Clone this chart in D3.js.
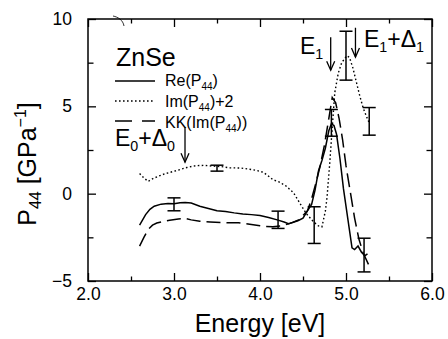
<!DOCTYPE html>
<html><head><meta charset="utf-8">
<script src="https://cdn.jsdelivr.net/npm/d3@7"></script>
<style>
html,body{margin:0;padding:0;background:#fff;}
svg{display:block;font-family:"Liberation Sans",Arial,Helvetica,sans-serif;}
</style></head><body>
<svg id="c" width="448" height="339"></svg>
<script>
// ---- data ----
const reE = [2.60,2.63,2.67,2.72,2.77,2.85,2.93,3.00,3.07,3.13,3.20,3.30,3.40,3.50,3.60,3.70,3.80,3.90,4.00,4.10,4.20,4.28,4.33,4.38,4.44,4.50,4.55,4.60,4.64,4.68,4.72,4.76,4.80,4.83,4.86,4.89,4.93,4.97,5.02,5.07,5.10,5.14,5.18,5.22,5.25];
const reV = [-1.80,-1.55,-1.20,-0.90,-0.72,-0.60,-0.56,-0.58,-0.52,-0.50,-0.54,-0.72,-0.85,-0.98,-1.02,-1.10,-1.16,-1.20,-1.25,-1.36,-1.50,-1.62,-1.72,-1.65,-1.55,-1.40,-1.00,-0.62,0.20,1.30,1.90,2.60,3.60,4.00,3.90,3.40,2.00,0.30,-1.40,-3.10,-3.20,-3.00,-3.35,-3.55,-3.45];
const imE = [2.60,2.65,2.70,2.75,2.82,2.90,3.00,3.07,3.15,3.25,3.35,3.45,3.55,3.65,3.77,3.88,3.97,4.04,4.10,4.15,4.22,4.30,4.39,4.47,4.54,4.62,4.68,4.72,4.76,4.78,4.81,4.83,4.87,4.91,4.95,5.01,5.04,5.08,5.12,5.16,5.20,5.24,5.27];
const imV = [1.15,0.90,0.70,0.85,1.00,1.15,1.28,1.38,1.50,1.60,1.62,1.58,1.55,1.48,1.47,1.40,1.32,1.22,1.00,0.80,0.68,0.45,0.05,-0.60,-1.15,-1.60,-1.85,-1.90,-1.00,-0.20,1.70,3.10,5.80,6.90,7.50,7.90,7.80,7.20,6.40,5.60,4.90,4.40,4.05];
const kkE = [2.60,2.65,2.70,2.75,2.80,2.88,2.95,3.05,3.13,3.20,3.30,3.42,3.55,3.65,3.75,3.88,4.00,4.05,4.15,4.25,4.35,4.45,4.55,4.60,4.65,4.70,4.75,4.80,4.84,4.88,4.92,4.96,5.00,5.05,5.10,5.15,5.20,5.28];
const kkV = [-3.00,-2.50,-2.05,-1.80,-1.68,-1.58,-1.52,-1.45,-1.42,-1.50,-1.58,-1.62,-1.65,-1.67,-1.66,-1.75,-1.84,-1.88,-1.90,-1.85,-1.70,-1.50,-1.00,-0.30,0.60,1.60,2.80,4.30,5.50,5.20,4.30,3.10,1.60,0.10,-1.40,-2.60,-3.40,-4.25];
const errE  = [3.00, 3.50, 4.21, 4.63, 4.83, 5.00, 5.27, 5.21];
const errLo = [-0.98, 1.29, -1.99, -2.85, 3.29, 6.50, 3.35, -4.48];
const errHi = [-0.24, 1.63, -1.00, -0.75, 4.82, 9.30, 4.93, -2.55];
const xMajor = [2,3,4,5,6];
const xMinor = [2.5,3.5,4.5,5.5];
const yMajor = [-5,0,5,10];
const yMinor = [-2.5,2.5,7.5];
// arrows: energy, tip value, tail value
const arrowE = [3.128, 4.822, 5.11];
const arrowTip = [1.80, 7.07, 7.82];
const arrowTail = [3.80, 8.95, 9.50];

// ---- chart ----
const svg = d3.select("#c");
const L=88, R=432, T=19, B=281;
const x = d3.scaleLinear().domain([2,6]).range([L,R]);
const y = d3.scaleLinear().domain([-5,10]).range([B,T]);
const toPts = (E,V)=>E.map((e,i)=>[e,V[i]]);
const line = d3.line().x(d=>x(d[0])).y(d=>y(d[1]));

// frame
svg.append("rect").attr("x",L).attr("y",T).attr("width",R-L).attr("height",B-T)
  .attr("fill","none").attr("stroke","#000").attr("stroke-width",1.5);

// axes with inward ticks
const fmtX = d3.format(".1f");
svg.append("g").attr("transform",`translate(0,${B})`)
  .call(d3.axisBottom(x).tickValues(xMajor).tickSize(-8).tickPadding(7).tickFormat(fmtX));
svg.append("g").attr("transform",`translate(0,${T})`)
  .call(d3.axisTop(x).tickValues(xMajor).tickSize(-8).tickFormat(""));
svg.append("g").attr("transform",`translate(0,${B})`)
  .call(d3.axisBottom(x).tickValues(xMinor).tickSize(-4.5).tickFormat(""));
svg.append("g").attr("transform",`translate(0,${T})`)
  .call(d3.axisTop(x).tickValues(xMinor).tickSize(-4.5).tickFormat(""));
svg.append("g").attr("transform",`translate(${L},0)`)
  .call(d3.axisLeft(y).tickValues(yMajor).tickSize(-8).tickPadding(16).tickFormat(d3.format("d")));
svg.append("g").attr("transform",`translate(${R},0)`)
  .call(d3.axisRight(y).tickValues(yMajor).tickSize(-8).tickFormat(""));
svg.append("g").attr("transform",`translate(${L},0)`)
  .call(d3.axisLeft(y).tickValues(yMinor).tickSize(-5.5).tickFormat(""));
svg.append("g").attr("transform",`translate(${R},0)`)
  .call(d3.axisRight(y).tickValues(yMinor).tickSize(-5.5).tickFormat(""));
svg.selectAll(".domain").remove();
svg.selectAll(".tick line").attr("stroke","#000").attr("stroke-width",1.3);
svg.selectAll(".tick text").attr("fill","#000").attr("font-size",17.5)
  .attr("font-family","'Liberation Sans',Arial,sans-serif");

// curves
svg.append("path").datum(toPts(imE,imV)).attr("d",line).attr("fill","none")
  .attr("stroke","#000").attr("stroke-width",1.4).attr("stroke-dasharray","1.6,2.4");
svg.append("path").datum(toPts(kkE,kkV)).attr("d",line).attr("fill","none")
  .attr("stroke","#000").attr("stroke-width",1.5).attr("stroke-dasharray","14,6");
svg.append("path").datum(toPts(reE,reV)).attr("d",line).attr("fill","none")
  .attr("stroke","#000").attr("stroke-width",1.5);

// error bars
const cap = 6.5;
const eb = svg.append("g").attr("stroke","#000").attr("stroke-width",1.5);
errE.forEach((e,i)=>{
  const xx = x(e);
  eb.append("line").attr("x1",xx).attr("x2",xx).attr("y1",y(errLo[i])).attr("y2",y(errHi[i]));
  eb.append("line").attr("x1",xx-cap).attr("x2",xx+cap).attr("y1",y(errLo[i])).attr("y2",y(errLo[i]));
  eb.append("line").attr("x1",xx-cap).attr("x2",xx+cap).attr("y1",y(errHi[i])).attr("y2",y(errHi[i]));
});

// arrows
const ag = svg.append("g").attr("stroke","#000").attr("stroke-width",1.3).attr("fill","none");
arrowE.forEach((e,i)=>{
  const xx=x(e), yt=y(arrowTip[i]), y0=y(arrowTail[i]);
  ag.append("line").attr("x1",xx).attr("x2",xx).attr("y1",y0).attr("y2",yt);
  ag.append("path").attr("d",`M${xx-4},${yt-9}L${xx},${yt}L${xx+4},${yt-9}`);
});

// annotation labels
function sublabel(px,py,size,parts){
  const t = svg.append("text").attr("x",px).attr("y",py).attr("font-size",size).attr("fill","#000");
  parts.forEach(p=>{
    const ts = t.append("tspan").text(p.t);
    if(p.sub){ ts.attr("font-size",size*0.62).attr("dy",p.dy); }
    else if(p.dy){ ts.attr("dy",p.dy); }
  });
  return t;
}
sublabel(115,146,23,[{t:"E"},{t:"0",sub:1,dy:5},{t:"+",dy:-5},{t:"Δ"},{t:"0",sub:1,dy:5}]);
sublabel(300,54,23,[{t:"E"},{t:"1",sub:1,dy:5}]);
sublabel(364,47,23,[{t:"E"},{t:"1",sub:1,dy:5},{t:"+",dy:-5},{t:"Δ"},{t:"1",sub:1,dy:5}]);

svg.append("text").attr("x",116).attr("y",66).attr("font-size",25).attr("fill","#000").text("ZnSe");

// legend
const lg = svg.append("g");
const legY = [81,101,121];
const legDash = [null,"1.6,2.4","17,10"];
legY.forEach((yy,i)=>{
  lg.append("line").attr("x1",115).attr("x2",155).attr("y1",yy).attr("y2",yy)
    .attr("stroke","#000").attr("stroke-width",1.3).attr("stroke-dasharray",legDash[i]);
});
function legText(py,parts){
  const t = lg.append("text").attr("x",165).attr("y",py).attr("font-size",16).attr("fill","#000");
  parts.forEach(p=>{ const s=t.append("tspan").text(p.t); if(p.sub) s.attr("font-size",10); if(p.dy) s.attr("dy",p.dy); });
}
legText(86,[{t:"Re(P"},{t:"44",sub:1,dy:4},{t:")",dy:-4}]);
legText(107,[{t:"Im(P"},{t:"44",sub:1,dy:4},{t:")+2",dy:-4}]);
legText(128,[{t:"KK(Im(P"},{t:"44",sub:1,dy:4},{t:"))",dy:-4}]);

// axis titles
svg.append("text").attr("x",(L+R)/2).attr("y",332).attr("text-anchor","middle")
  .attr("font-size",25).attr("fill","#000").text("Energy [eV]");
const yl = svg.append("text").attr("transform","translate(36,164) rotate(-90)")
  .attr("text-anchor","middle").attr("font-size",25).attr("fill","#000");
yl.append("tspan").text("P");
yl.append("tspan").text("44").attr("font-size",16).attr("dy",5);
yl.append("tspan").text(" [GPa").attr("dy",-5);
yl.append("tspan").text("−1").attr("font-size",16).attr("dy",-10);
yl.append("tspan").text("]").attr("dy",10);

// small scan artifact near top-left
svg.append("path").attr("d","M113,16 C118,17 123,20 124,26").attr("fill","none").attr("stroke","#000").attr("stroke-width",0.8);
</script>
</body></html>
